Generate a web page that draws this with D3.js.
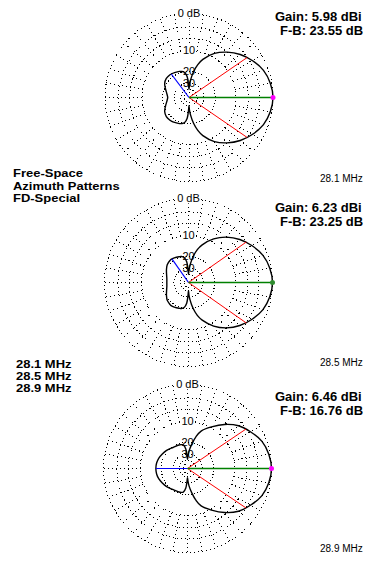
<!DOCTYPE html>
<html>
<head>
<meta charset="utf-8">
<script src="https://cdn.jsdelivr.net/npm/d3@7"></script>
<style>
body { margin: 0; background: #fff; }
svg { display: block; }
</style>
</head>
<body>
<div id="chart"></div>
<script>
// azimuth angles (deg, 0 = right, ccw) for one half of the pattern, mirrored below
const angles = [0, 10, 20, 30, 40, 50, 60, 70, 75, 80, 85, 88, 90, 92, 95, 100, 105, 110, 120, 127, 130, 140, 150, 160, 170, 180];
// dB below the max gain, per frequency
const db281 = [0, 0.3, 1.0, 2.3, 3.9, 6.0, 8.6, 12.5, 15.5, 20, 27, 33, 40, 33, 24, 20.5, 19.5, 19, 18.4, 18, 17.9, 17.9, 18.8, 20.8, 22.6, 23.55];
const db285 = [0, 0.3, 1.0, 2.3, 3.9, 6.0, 8.8, 12.7, 15.5, 20, 27, 33, 40, 33, 24, 20.5, 19.5, 19.2, 18.6, 18.3, 18.4, 19, 20.5, 22, 23, 23.25];
const db289 = [0, 0.3, 1.0, 2.4, 4.0, 6.5, 9.6, 12.8, 16, 21, 27, 33, 38, 33, 25, 21.5, 21, 20.8, 20.6, 20.3, 20, 19, 18.2, 17.4, 16.9, 16.76];

const freqs = ["28.1 MHz", "28.5 MHz", "28.9 MHz"];
const gains = ["5.98", "6.23", "6.46"];
const fbs = ["23.55", "23.25", "16.76"];
const beamHalf = [34.5, 35, 34];
const rearAngle = [127, 125, 180];
const rearDb = [18, 18.3, 16.76];
const ringDb = [0, 3, 6, 10, 20, 30, 40, 50];
const ringLabelDb = [0, 10, 20, 30];
const ringLabelText = ["0 dB", "10", "20", "30"];
const titleLines = ["Free-Space", "Azimuth Patterns", "FD-Special"];

const width = 376, height = 570;
const R = 84;
const centers = [[189, 97.5], [188.5, 282.5], [187.5, 468.5]];
const gainY = [21, 212, 401];
const freqY = [182, 366, 552];

// ARRL log scale: 0.89 per 2 dB
const arrl = d => Math.pow(0.89, d / 2);
const rScale = d3.scaleLinear().domain([0, 1]).range([0, R]);
const rad = d => rScale(arrl(d));
const toTheta = a => (90 - a) * Math.PI / 180;

const svg = d3.select("#chart").append("svg")
	.attr("width", width)
	.attr("height", height);

const font = "'Liberation Sans', Arial, sans-serif";

const polar = (a, d) => {
	const t = toTheta(a), r = rad(d);
	return [r * Math.sin(t), -r * Math.cos(t)];
};

const drawPlot = (i, dbs) => {
	const g = svg.append("g")
		.attr("transform", `translate(${centers[i][0]},${centers[i][1]})`);

	const grid = g.append("g")
		.attr("shape-rendering", "crispEdges");

	// rings
	grid.selectAll(".ring")
		.data(ringDb).enter()
		.append("circle")
		.attr("r", d => rad(d))
		.attr("fill", "none")
		.attr("stroke", "#000")
		.attr("stroke-width", 1)
		.attr("stroke-dasharray", d => d >= 20 ? "1,2" : "1,3");

	// spokes every 10 deg
	grid.selectAll(".spoke")
		.data(d3.range(0, 360, 10)).enter()
		.append("line")
		.attr("x1", a => polar(a, 10)[0])
		.attr("y1", a => polar(a, 10)[1])
		.attr("x2", a => polar(a, 0)[0])
		.attr("y2", a => polar(a, 0)[1])
		.attr("stroke", "#000")
		.attr("stroke-width", 1)
		.attr("stroke-dasharray", "1,3");

	// full pattern, mirrored about the 0-180 axis
	const pts = angles.map((a, k) => [a, dbs[k]]);
	const mirror = angles.slice(1, -1).map((a, k) => [360 - a, dbs[k + 1]]).reverse();
	const all = pts.concat(mirror);

	const line = d3.lineRadial()
		.angle(d => toTheta(d[0]))
		.radius(d => rad(d[1]))
		.curve(d3.curveCatmullRomClosed.alpha(0.5));

	g.append("path")
		.attr("d", line(all))
		.attr("fill", "none")
		.attr("stroke", "#000")
		.attr("stroke-width", 1.4);

	// beamwidth lines
	[beamHalf[i], -beamHalf[i]].forEach(a => {
		const p = polar(a, 3);
		g.append("line")
			.attr("x1", 0).attr("y1", 0)
			.attr("x2", p[0]).attr("y2", p[1])
			.attr("stroke", "#ff0000")
			.attr("stroke-width", 1);
	});

	// rear lobe line
	const b = polar(rearAngle[i], rearDb[i]);
	g.append("line")
		.attr("x1", 0).attr("y1", 0)
		.attr("x2", b[0]).attr("y2", b[1])
		.attr("stroke", "#0000ff")
		.attr("stroke-width", 1.2);

	// max gain line
	const m = polar(0, 0);
	g.append("line")
		.attr("x1", 0).attr("y1", 0)
		.attr("x2", m[0]).attr("y2", m[1])
		.attr("stroke", "#008000")
		.attr("stroke-width", 1.6);
	g.append("circle")
		.attr("cx", m[0]).attr("cy", m[1])
		.attr("r", 2.5)
		.attr("fill", i === 1 ? "#2e8b2e" : "#ff00ff");

	// ring labels
	ringLabelDb.forEach((d, k) => {
		const t = g.append("text")
			.attr("x", 0)
			.attr("y", -rad(d))
			.attr("dy", "0.35em")
			.attr("text-anchor", "middle")
			.style("font-family", font)
			.style("font-size", "11px")
			.text(ringLabelText[k]);
		if (k < 2) {
			const bb = t.node().getBBox();
			g.insert("rect", "text")
				.attr("x", bb.x - 1)
				.attr("y", bb.y + 1)
				.attr("width", bb.width + 2)
				.attr("height", bb.height - 2)
				.attr("fill", "#fff");
		}
	});

	// gain / F-B
	svg.append("text")
		.attr("x", 275).attr("y", gainY[i])
		.style("font-family", font)
		.style("font-size", "13px")
		.style("font-weight", "bold")
		.text(`Gain: ${gains[i]} dBi`);
	svg.append("text")
		.attr("x", 280).attr("y", gainY[i] + 14)
		.style("font-family", font)
		.style("font-size", "13px")
		.style("font-weight", "bold")
		.text(`F-B: ${fbs[i]} dB`);

	svg.append("text")
		.attr("x", 320).attr("y", freqY[i])
		.style("font-family", font)
		.style("font-size", "10px")
		.text(freqs[i]);
};

[db281, db285, db289].forEach((dbs, i) => drawPlot(i, dbs));

// tightly stacked bold labels: smaller font, stretched to the original width
const stack = (sel) => {
	sel.style("font-family", font)
		.style("font-size", "11px")
		.style("font-weight", "bold")
		.each(function () {
			const w = this.getComputedTextLength();
			d3.select(this)
				.attr("textLength", w * 1.18)
				.attr("lengthAdjust", "spacingAndGlyphs");
		});
};

svg.selectAll(".title")
	.data(titleLines).enter()
	.append("text")
	.attr("x", 13)
	.attr("y", (d, i) => 177 + i * 12.5)
	.text(d => d)
	.call(stack);

svg.selectAll(".flist")
	.data(freqs).enter()
	.append("text")
	.attr("x", 16)
	.attr("y", (d, i) => 368 + i * 12)
	.text(d => d)
	.call(stack);
</script>
</body>
</html>
